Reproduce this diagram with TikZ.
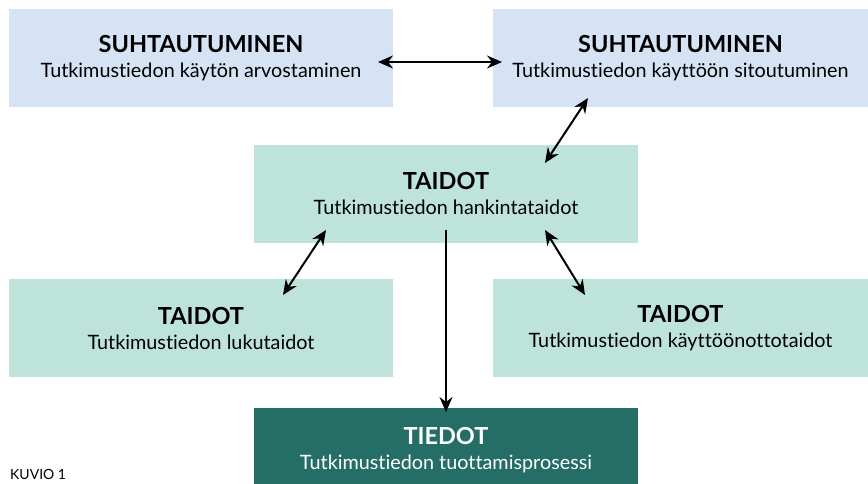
\documentclass[tikz,border=0pt]{standalone}
\usepackage{fontspec}
\setmainfont[Ligatures=NoCommon]{Lato}
\usetikzlibrary{arrows.meta}
\usetikzlibrary{positioning}
\definecolor{vaalsin}{RGB}{213,227,244}
\definecolor{minttu}{RGB}{190,227,219}
\definecolor{tumma}{RGB}{36,110,102}
\newcommand{\otsikko}[1]{{\fontsize{23.5}{25}\selectfont\bfseries #1}}

\begin{document}
\begin{tikzpicture}[x=1pt,y=-1pt,
    laatikko/.style={inner sep=0pt,align=center,minimum height=98pt,
        font=\fontsize{19.8}{25}\selectfont},
    sininen/.style={laatikko,fill=vaalsin},
    vihrea/.style={laatikko,fill=minttu},
    karki/.tip={Stealth[length=15pt,width=13pt,inset=5pt]},
    nuoli/.style={line width=2pt,karki-karki}]
    \useasboundingbox (0,0) rectangle (868,483);
    % laatikot
    \node[sininen,minimum width=384pt] (arvo) at (201,58) {\otsikko{SUHTAUTUMINEN}\\Tutkimustiedon käytön arvostaminen};
    \node[sininen,minimum width=375pt] (sitou) at (680.5,58) {\otsikko{SUHTAUTUMINEN}\\Tutkimustiedon käyttöön sitoutuminen};
    \node[vihrea,minimum width=384pt] (hank) at (446,193.5) {\otsikko{TAIDOT}\\Tutkimustiedon hankintataidot};
    \node[vihrea,minimum width=384pt] (luku) at (201,328) {\otsikko{TAIDOT}\\Tutkimustiedon lukutaidot};
    \node[vihrea,minimum width=375pt] (kayt) at (680.5,328) {\otsikko{TAIDOT}\\Tutkimustiedon käyttöönottotaidot};
    \node[laatikko,fill=tumma,text=white,minimum width=384pt,minimum height=84pt] (tied) at (446,450) {\otsikko{TIEDOT}\\Tutkimustiedon tuottamisprosessi};
    \node[anchor=base west,inner sep=0pt,font=\fontsize{14}{14}\selectfont] (kuvio) at (10,479) {KUVIO 1};
    % nuolten päät
    \coordinate (arvoE) at (378,62);
    \coordinate (sitouW) at (502,62);
    \coordinate (sitouS) at (588,98);
    \coordinate (hankNE) at (545,163);
    \coordinate (hankSW) at (326,230);
    \coordinate (hankSE) at (545,230);
    \coordinate (hankS) at (446,230);
    \coordinate (lukuN) at (283,295);
    \coordinate (kaytN) at (585,295);
    \coordinate (tiedN) at (446,412);
    % nuolet
    \draw[nuoli] (arvoE) -- (sitouW);
    \draw[nuoli] (sitouS) -- (hankNE);
    \draw[nuoli] (hankSW) -- (lukuN);
    \draw[nuoli] (hankSE) -- (kaytN);
    \draw[line width=2pt,-karki] (hankS) -- (tiedN);
\end{tikzpicture}
\end{document}
